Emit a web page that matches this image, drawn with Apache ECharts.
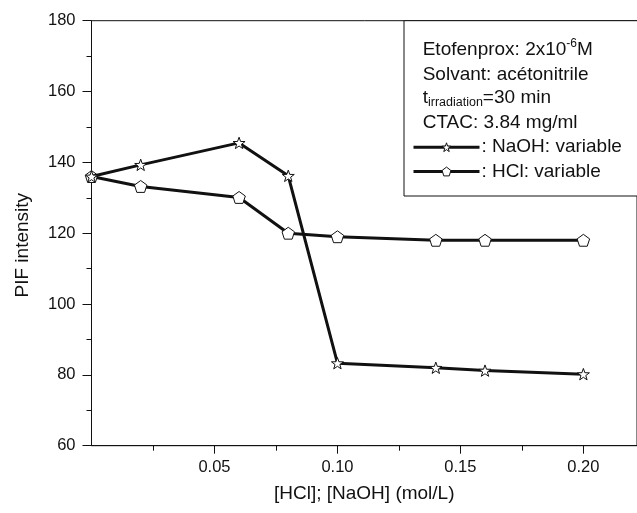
<!DOCTYPE html>
<html>
<head>
<meta charset="utf-8">
<script src="https://cdn.jsdelivr.net/npm/echarts@6/dist/echarts.min.js"></script>
<style>
html, body { margin: 0; padding: 0; background: #fff; }
#chart { width: 637px; height: 513px; }
</style>
</head>
<body>
<div id="chart"></div>
<script>
// values
var conc = [0, 0.02, 0.06, 0.08, 0.10, 0.14, 0.16, 0.20];
var naohPIF = [136, 139.3, 145.5, 136.2, 83.3, 82, 81.2, 80.2];
var hclPIF = [136, 133.2, 130.1, 120, 119, 118, 118, 118];
var xMajor = [0.05, 0.10, 0.15, 0.20];
var xMinor = [0.025, 0.075, 0.125, 0.175];

var FONT = 'Liberation Sans';
var INK = '#111';
var BOXFS = 19;

var starPath = 'path://M100 0 L123.5 67.6 L195.1 69.1 L138 112.4 L158.8 180.9 L100 140 L41.2 180.9 L62 112.4 L4.9 69.1 L76.5 67.6 Z';
var pentaPath = 'path://M100 0 L195.1 69.1 L158.8 180.9 L41.2 180.9 L4.9 69.1 Z';

function pairs(xs, ys) {
    var out = [];
    for (var i = 0; i < xs.length; i++) out.push([xs[i], ys[i]]);
    return out;
}

function tok(extra) {
    var o = { fontFamily: FONT, fontSize: BOXFS, fill: INK, color: INK };
    for (var k in extra) o[k] = extra[k];
    return o;
}

var chart = echarts.init(document.getElementById('chart'));

chart.setOption({
    animation: false,
    grid: {
        left: 91.5, top: 20.7, bottom: 67.3, right: -1,
        show: true, borderColor: INK, borderWidth: 1
    },
    xAxis: [{
        type: 'value', min: 0, max: 0.2218, position: 'bottom',
        axisLine: { show: true, lineStyle: { color: INK, width: 1 } },
        axisTick: { show: true, length: 8, customValues: xMajor, lineStyle: { color: INK } },
        axisLabel: {
            customValues: xMajor, margin: 13, color: INK, fontFamily: FONT, fontSize: 16.5,
            formatter: function (v) { return v.toFixed(2); }
        },
        splitLine: { show: false },
        name: '[HCl]; [NaOH] (mol/L)', nameLocation: 'middle', nameGap: 39,
        nameTextStyle: { color: INK, fontFamily: FONT, fontSize: 19 }
    }, {
        type: 'value', min: 0, max: 0.2218, position: 'bottom',
        axisLine: { show: false },
        axisTick: { show: true, length: 5, customValues: xMinor, lineStyle: { color: INK } },
        axisLabel: { show: false },
        splitLine: { show: false }
    }],
    yAxis: {
        type: 'value', min: 60, max: 180, interval: 20,
        axisLine: { show: true, lineStyle: { color: INK, width: 1 } },
        axisTick: { show: true, length: 9, lineStyle: { color: INK } },
        minorTick: { show: true, splitNumber: 2, length: 5, lineStyle: { color: INK } },
        axisLabel: { margin: 16, color: INK, fontFamily: FONT, fontSize: 16.5 },
        splitLine: { show: false },
        name: 'PIF intensity', nameLocation: 'middle', nameGap: 59,
        nameTextStyle: { color: INK, fontFamily: FONT, fontSize: 19, padding: [0, 24, 0, 0] }
    },
    legend: {
        orient: 'vertical', left: 412, top: 137.7, padding: 0,
        itemWidth: 66, itemHeight: 11, itemGap: 5.3,
        data: ['NaOH: variable', 'HCl: variable'],
        formatter: function (n) { return ': ' + n; },
        itemStyle: { color: '#fff', borderColor: INK, borderWidth: 1 },
        lineStyle: { color: INK, width: 3 },
        textStyle: { color: INK, fontFamily: FONT, fontSize: BOXFS, lineHeight: 19, padding: [0, 0, 0, -3] },
        z: 20
    },
    graphic: [
        {
            type: 'rect', z: 10,
            shape: { x: 404, y: 20.7, width: 260, height: 175.3 },
            style: { fill: '#fff', stroke: INK, lineWidth: 1 }
        },
        {
            type: 'text', z: 11, x: 422.7, y: 38,
            style: {
                text: '{a|Etofenprox: 2x10}{sup|-6}{a|M}',
                verticalAlign: 'top', fill: INK,
                rich: {
                    a: tok({ lineHeight: 24, verticalAlign: 'middle' }),
                    sup: tok({ fontSize: 12, lineHeight: 2, verticalAlign: 'top' })
                }
            }
        },
        {
            type: 'text', z: 11, x: 422.7, y: 74.3,
            style: { text: 'Solvant: acétonitrile', verticalAlign: 'middle', fill: INK, fontFamily: FONT, fontSize: BOXFS }
        },
        {
            type: 'text', z: 11, x: 422.7, y: 88.6,
            style: {
                text: '{a|t}{sub|irradiation}{a|=30 min}',
                verticalAlign: 'top', fill: INK,
                rich: {
                    a: tok({ lineHeight: 20, verticalAlign: 'top' }),
                    sub: tok({ fontSize: 12.5, lineHeight: 2, verticalAlign: 'bottom' })
                }
            }
        },
        {
            type: 'text', z: 11, x: 422.7, y: 122.9,
            style: { text: 'CTAC: 3.84 mg/ml', verticalAlign: 'middle', fill: INK, fontFamily: FONT, fontSize: BOXFS }
        }
    ],
    series: [{
        name: 'NaOH: variable', type: 'line', xAxisIndex: 0,
        data: pairs(conc, naohPIF),
        symbol: starPath, symbolSize: 12, symbolKeepAspect: true,
        lineStyle: { color: INK, width: 3 },
        itemStyle: { color: '#fff', borderColor: INK, borderWidth: 1 },
        z: 3
    }, {
        name: 'HCl: variable', type: 'line', xAxisIndex: 0,
        data: pairs(conc, hclPIF),
        symbol: pentaPath, symbolSize: 12.5, symbolKeepAspect: true,
        lineStyle: { color: INK, width: 3 },
        itemStyle: { color: '#fff', borderColor: INK, borderWidth: 1 },
        z: 2
    }]
});
</script>
</body>
</html>
